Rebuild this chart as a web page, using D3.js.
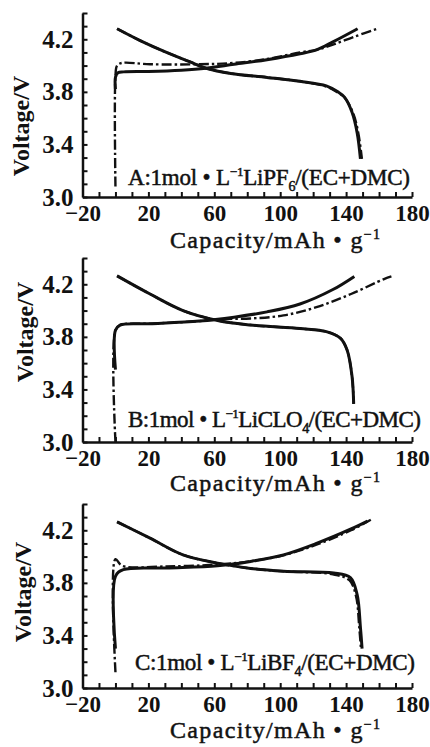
<!DOCTYPE html>
<html>
<head>
<meta charset="utf-8">
<script src="https://cdn.jsdelivr.net/npm/d3@7"></script>
<style>
  body { margin: 0; background: #fff; }
  text { font-family: "Liberation Serif", "DejaVu Serif", serif; fill: #111; }
</style>
</head>
<body>
<div id="chart"></div>
<script>
// panel ids and electrolyte salts
const PANEL_IDS = ["A", "B", "C"];
const SALTS = ["LiPF", "LiCLO", "LiBF"];
const SALT_SUBS = ["6", "4", "4"];

// tick labels
const X_TICKS = d3.range(-20, 181, 10);
const X_LABELS = [-20, 20, 60, 100, 140, 180];
const Y_TICKS = d3.range(30, 45).map(d => d / 10);
const Y_LABELS = ["3.0", "3.4", "3.8", "4.2"];

// curves: [capacity mAh/g, voltage V]
const A_CHARGE_SOLID = [[0, 3.82], [0, 3.91], [1.5, 3.945], [5, 3.952], [20, 3.955], [40, 3.965], [55, 3.98], [72, 4.01], [92, 4.045], [112, 4.09], [122, 4.12], [132, 4.18], [147, 4.28]];
const A_DISCH_SOLID = [[1, 4.28], [15, 4.19], [31, 4.1], [45, 4.03], [55, 3.98], [70, 3.94], [92, 3.91], [112, 3.88], [128, 3.845], [135, 3.8], [139, 3.76], [143.6, 3.645], [146.7, 3.49], [148.7, 3.29]];
const A_CHARGE_DASH = [[0, 3.08], [0, 3.92], [1, 4.0], [4, 4.02], [21, 4.01], [51, 4.01], [72, 4.02], [92, 4.05], [112, 4.1], [122, 4.12], [132, 4.16], [145, 4.22], [159, 4.28]];
const A_DISCH_DASH = [[1, 4.28], [15, 4.19], [31, 4.1], [45, 4.03], [55, 3.98], [70, 3.94], [92, 3.91], [112, 3.88], [128, 3.84], [135, 3.795], [139.5, 3.75], [144.5, 3.63], [147.5, 3.48], [149.6, 3.29]];

const B_CHARGE_SOLID = [[0, 3.55], [0, 3.85], [2.8, 3.89], [21, 3.9], [51, 3.92], [72, 3.95], [92, 3.99], [112, 4.05], [132, 4.16], [145, 4.26]];
const B_DISCH_SOLID = [[1, 4.264], [21, 4.126], [41, 4.0], [62, 3.925], [82, 3.89], [112, 3.863], [128, 3.84], [136.5, 3.79], [140.6, 3.7], [143.6, 3.5], [144.6, 3.29]];
const B_CHARGE_DASH = [[0, 3.0], [0, 3.85], [2.8, 3.89], [21, 3.9], [51, 3.92], [65, 3.935], [82, 3.94], [102, 3.963], [122, 4.026], [143, 4.126], [163, 4.24], [167.5, 4.26]];
const B_DISCH_DASH = [[1, 4.264], [21, 4.126], [41, 4.0], [62, 3.925], [82, 3.89], [112, 3.863], [128, 3.84], [136.5, 3.79], [140.6, 3.7], [143.6, 3.5], [144.6, 3.29]];

const C_CHARGE_SOLID = [[0, 3.3], [0, 3.85], [4.8, 3.9], [31, 3.913], [62, 3.93], [82, 3.963], [102, 4.013], [122, 4.1], [143, 4.21], [153, 4.27]];
const C_DISCH_SOLID = [[1, 4.264], [21, 4.14], [41, 4.013], [62, 3.95], [82, 3.91], [102, 3.888], [132.5, 3.875], [142.6, 3.84], [146.7, 3.71], [148.7, 3.46], [149.7, 3.3]];
const C_CHARGE_DASH = [[0, 3.12], [0, 3.98], [4, 3.93], [31, 3.925], [62, 3.94], [82, 3.965], [102, 4.01], [122, 4.09], [143, 4.2], [155, 4.28]];
const C_DISCH_DASH = [[1, 4.264], [21, 4.14], [41, 4.013], [62, 3.95], [82, 3.91], [102, 3.888], [132, 3.865], [142, 3.82], [146, 3.7], [148, 3.46], [149, 3.3]];

const SERIES = [
  [A_CHARGE_SOLID, A_DISCH_SOLID, A_CHARGE_DASH, A_DISCH_DASH],
  [B_CHARGE_SOLID, B_DISCH_SOLID, B_CHARGE_DASH, B_DISCH_DASH],
  [C_CHARGE_SOLID, C_DISCH_SOLID, C_CHARGE_DASH, C_DISCH_DASH]
];

// layout of each panel (pixels)
const LAYOUT = [
  { bottom: 197, yTitle: [21, 126], note: [128, 185, 282], xTitle: 248 },
  { bottom: 442, yTitle: [25, 332], note: [128, 427, 293], xTitle: 491 },
  { bottom: 688, yTitle: [23, 592], note: [135, 670, 280], xTitle: 738 }
];
const PLOT_H = 184, X0 = 82.5, X1 = 412;

const svg = d3.select("#chart").append("svg")
  .attr("width", 430).attr("height", 747);

const x = d3.scaleLinear().domain([-20, 180]).range([X0, X1]);
const fmt = d3.format("d");

LAYOUT.forEach((L, i) => {
  const y = d3.scaleLinear().domain([3.0, 4.4]).range([L.bottom, L.bottom - PLOT_H]);
  const g = svg.append("g");

  // x axis, ticks point inward
  const xa = g.append("g")
    .attr("transform", `translate(0,${L.bottom})`)
    .call(d3.axisBottom(x).tickValues(X_TICKS).tickSizeInner(-5).tickSizeOuter(0).tickPadding(8)
      .tickFormat(d => X_LABELS.includes(d) ? fmt(d) : ""));
  // y axis
  const ya = g.append("g")
    .attr("transform", `translate(${X0},0)`)
    .call(d3.axisLeft(y).tickValues(Y_TICKS).tickSizeInner(-5).tickSizeOuter(0).tickPadding(9)
      .tickFormat(d => Y_LABELS.includes(d.toFixed(1)) ? d.toFixed(1) : ""));
  [xa, ya].forEach(a => {
    a.select(".domain").attr("stroke", "#111").attr("stroke-width", 2.5);
    a.selectAll(".tick line").attr("stroke", "#111").attr("stroke-width", 2);
    a.selectAll("text").attr("fill", "#111").style("font-weight", "bold");
  });
  xa.selectAll("text").style("font-size", "23px");
  ya.selectAll("text").style("font-size", "25px");

  // curves
  const line = d3.line().x(d => x(d[0])).y(d => y(d[1])).curve(d3.curveCatmullRom.alpha(0.5));
  SERIES[i].forEach((s, k) => {
    g.append("path").datum(s)
      .attr("d", line)
      .attr("fill", "none")
      .attr("stroke", "#111")
      .attr("stroke-width", k < 2 ? 3 : 2.4)
      .attr("stroke-dasharray", k < 2 ? null : "10,3,2.5,3");
  });

  // electrolyte label
  const note = g.append("text")
    .attr("x", L.note[0]).attr("y", L.note[1])
    .attr("textLength", L.note[2]).attr("lengthAdjust", "spacing")
    .style("font-size", "23px")
    .style("stroke", "#111").style("stroke-width", 0.5);
  note.append("tspan").text(`${PANEL_IDS[i]}:1mol • L`);
  note.append("tspan").attr("dy", -9).style("font-size", "13px").text("−1");
  note.append("tspan").attr("dy", 9).text(SALTS[i]);
  note.append("tspan").attr("dy", 6).style("font-size", "14px").text(SALT_SUBS[i]);
  note.append("tspan").attr("dy", -6).text("/(EC+DMC)");

  // axis titles
  g.append("text")
    .attr("transform", `translate(${L.yTitle[0]},${L.yTitle[1]}) rotate(-90)`)
    .attr("text-anchor", "middle").attr("dominant-baseline", "central")
    .style("font-size", "24px").style("font-weight", "bold")
    .text("Voltage/V");

  const xt = g.append("text")
    .attr("x", 170).attr("y", L.xTitle)
    .attr("textLength", 210).attr("lengthAdjust", "spacing")
    .style("font-size", "24px")
    .style("stroke", "#111").style("stroke-width", 0.5);
  xt.append("tspan").text("Capacity/mAh • g");
  xt.append("tspan").attr("dy", -9).style("font-size", "14px").text("−1");
});
</script>
</body>
</html>
